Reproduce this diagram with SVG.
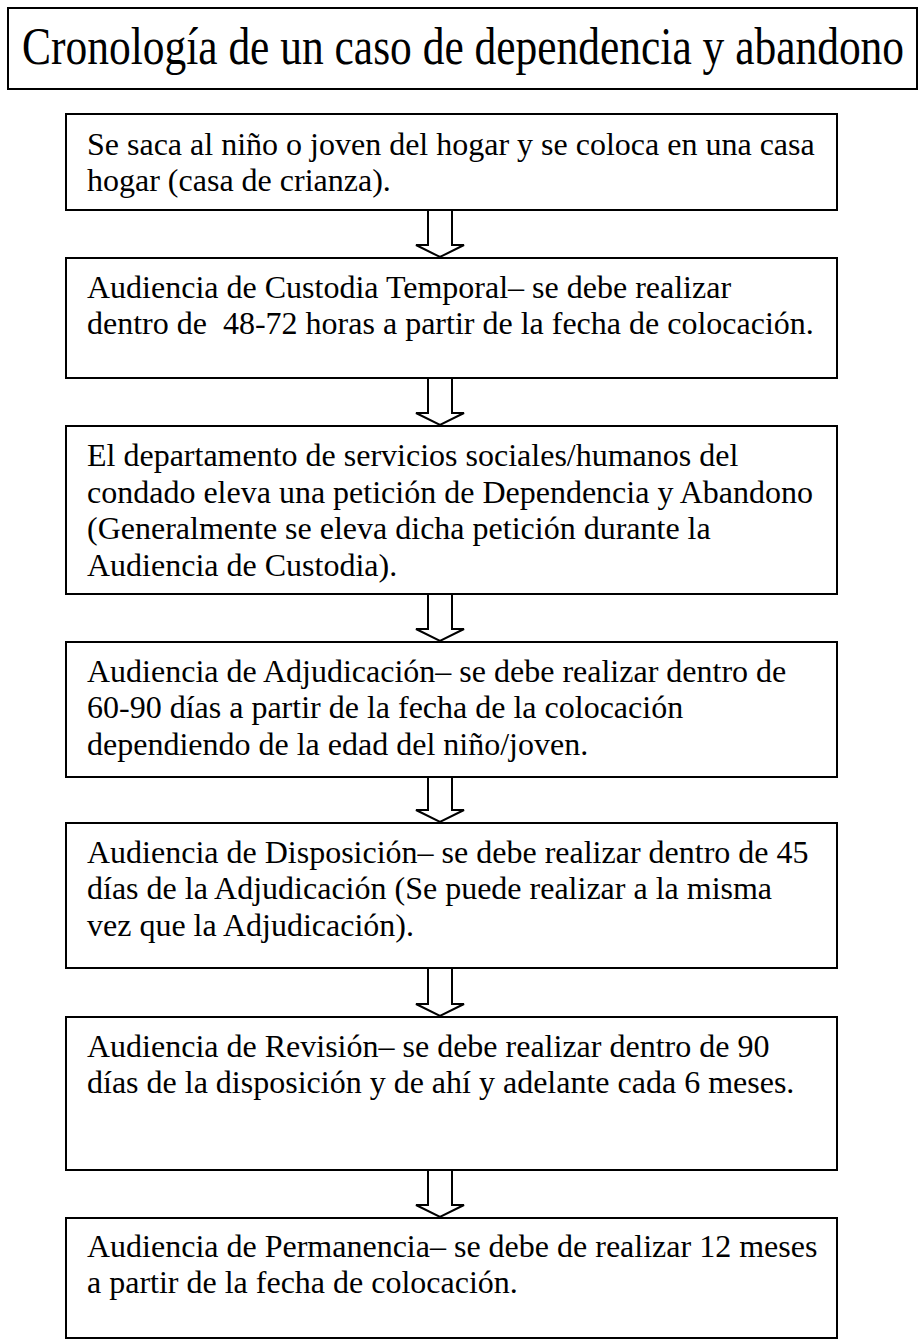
<svg xmlns="http://www.w3.org/2000/svg" width="921" height="1339" viewBox="0 0 921 1339">
<style>
.box{fill:#fff;stroke:#000;stroke-width:2}
.arr{fill:#fff;stroke:#000;stroke-width:2;stroke-linejoin:miter}
.t{font-family:"Liberation Serif","Times New Roman",serif;font-size:32px;fill:#000}
.title{font-family:"Liberation Serif","Times New Roman",serif;font-size:52px;fill:#000}
</style>
<g id="title">
<rect class="box" x="8" y="8" width="909" height="81"/>
<text class="title" transform="translate(22,64) scale(0.836,1)" x="0" y="0">Cronología de un caso de dependencia y abandono</text>
</g>
<g id="connectors">
<path class="arr" d="M428,210 V245 H416 L440,257 L464,245 H452 V210"/>
<path class="arr" d="M428,378 V413 H416 L440,425 L464,413 H452 V378"/>
<path class="arr" d="M428,594 V629 H416 L440,641 L464,629 H452 V594"/>
<path class="arr" d="M428,777 V810 H416 L440,822 L464,810 H452 V777"/>
<path class="arr" d="M428,968 V1004 H416 L440,1016 L464,1004 H452 V968"/>
<path class="arr" d="M428,1170 V1205 H416 L440,1217 L464,1205 H452 V1170"/>
</g>
<g id="node1">
<rect class="box" x="66" y="114" width="771" height="96"/>
<text class="t" x="87" y="155">Se saca al niño o joven del hogar y se coloca en una casa</text>
<text class="t" x="87" y="191">hogar (casa de crianza).</text>
</g>
<g id="node2">
<rect class="box" x="66" y="258" width="771" height="120"/>
<text class="t" x="87" y="298">Audiencia de Custodia Temporal– se debe realizar</text>
<text class="t" x="87" y="334" xml:space="preserve">dentro de  48-72 horas a partir de la fecha de colocación.</text>
</g>
<g id="node3">
<rect class="box" x="66" y="426" width="771" height="168"/>
<text class="t" x="87" y="466">El departamento de servicios sociales/humanos del</text>
<text class="t" x="87" y="503">condado eleva una petición de Dependencia y Abandono</text>
<text class="t" x="87" y="539">(Generalmente se eleva dicha petición durante la</text>
<text class="t" x="87" y="576">Audiencia de Custodia).</text>
</g>
<g id="node4">
<rect class="box" x="66" y="642" width="771" height="135"/>
<text class="t" x="87" y="682">Audiencia de Adjudicación– se debe realizar dentro de</text>
<text class="t" x="87" y="718">60-90 días a partir de la fecha de la colocación</text>
<text class="t" x="87" y="755">dependiendo de la edad del niño/joven.</text>
</g>
<g id="node5">
<rect class="box" x="66" y="823" width="771" height="145"/>
<text class="t" x="87" y="863">Audiencia de Disposición– se debe realizar dentro de 45</text>
<text class="t" x="87" y="899">días de la Adjudicación (Se puede realizar a la misma</text>
<text class="t" x="87" y="936">vez que la Adjudicación).</text>
</g>
<g id="node6">
<rect class="box" x="66" y="1017" width="771" height="153"/>
<text class="t" x="87" y="1057">Audiencia de Revisión– se debe realizar dentro de 90</text>
<text class="t" x="87" y="1093">días de la disposición y de ahí y adelante cada 6 meses.</text>
</g>
<g id="node7">
<rect class="box" x="66" y="1218" width="771" height="120"/>
<text class="t" x="87" y="1257">Audiencia de Permanencia– se debe de realizar 12 meses</text>
<text class="t" x="87" y="1293">a partir de la fecha de colocación.</text>
</g>
</svg>
